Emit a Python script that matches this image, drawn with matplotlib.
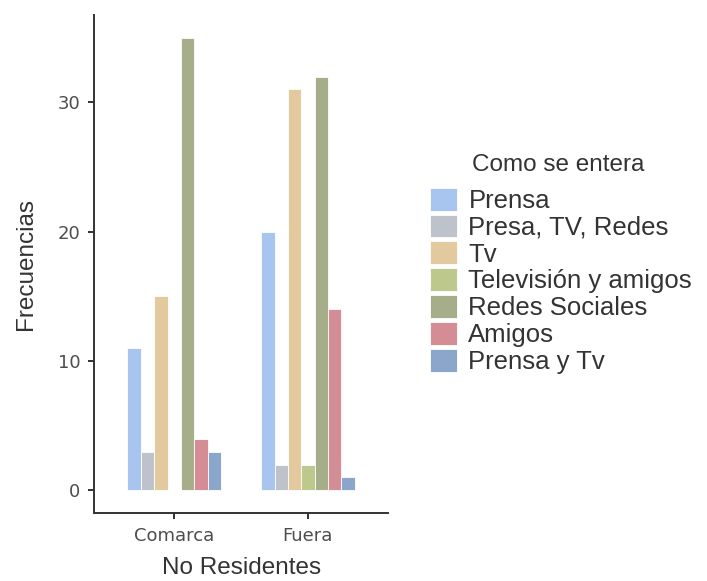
import numpy as np
import matplotlib
matplotlib.use("Agg")
import matplotlib.pyplot as plt

# data
grupos = ["Comarca", "Fuera"]
categorias = ["Prensa", "Presa, TV, Redes", "Tv", "Televisión y amigos",
              "Redes Sociales", "Amigos", "Prensa y Tv"]
comarca = [11, 3, 15, 0, 35, 4, 3]
fuera = [20, 2, 31, 2, 32, 14, 1]
colores = ["#A7C5EF", "#BEC3CB", "#E2CA9E", "#BDC88D",
           "#A5AE88", "#D48D95", "#8AA7CB"]

valores = np.array([comarca, fuera])

plt.rcParams["font.family"] = ["Liberation Sans", "DejaVu Sans"]

fig = plt.figure(figsize=(7.07, 5.81), dpi=100)
ax = fig.add_axes([0.133, 0.117, 0.416, 0.857])

x = np.arange(1, len(grupos) + 1)
ancho = 0.1
for j, cat in enumerate(categorias):
    pos = x + (j - 3) * ancho
    alturas = valores[:, j]
    mask = alturas > 0
    ax.bar(pos[mask], alturas[mask], width=ancho, color=colores[j],
           edgecolor="white", linewidth=0.6, label=cat)

ax.set_xlim(0.4, 2.6)
ax.set_ylim(-1.75, 36.75)
ax.set_xticks(x)
ax.set_xticklabels(grupos)
ax.set_yticks([0, 10, 20, 30])

for s in ["top", "right"]:
    ax.spines[s].set_visible(False)
for s in ["left", "bottom"]:
    ax.spines[s].set_color("#333333")
    ax.spines[s].set_linewidth(1.4)
ax.tick_params(axis="both", colors="#333333", width=1.4, length=4,
               labelsize=13, labelcolor="#4D4D4D", pad=6)
for lab in ax.get_xticklabels() + ax.get_yticklabels():
    lab.set_family("DejaVu Sans")

ax.set_xlabel("No Residentes", fontsize=17.5, color="#333333", labelpad=9)
ax.set_ylabel("Frecuencias", fontsize=17.5, color="#333333", labelpad=15)

leg = ax.legend(loc="upper left",
                bbox_to_anchor=(0.608, 0.677), bbox_transform=fig.transFigure,
                frameon=False, fontsize=18.5,
                handlelength=1.05, handleheight=1.0, handletextpad=0.45,
                labelspacing=0.06, borderpad=0, borderaxespad=0)
for t in leg.get_texts():
    t.set_color("#333333")
fig.text(0.667, 0.716, "Como se entera", fontsize=17.5, color="#333333",
         ha="left", va="center")

fig.savefig("out.png", dpi=100)
